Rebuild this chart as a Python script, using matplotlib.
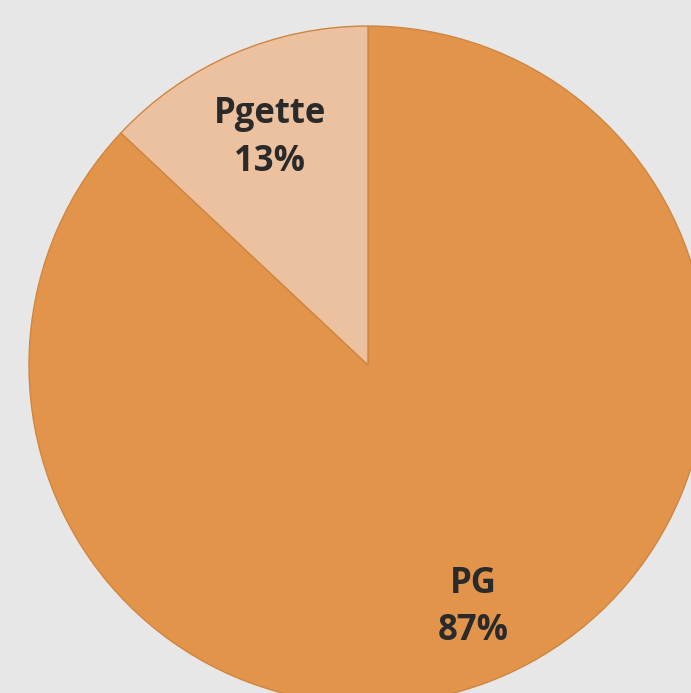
import numpy as np
import matplotlib
matplotlib.use("Agg")
import matplotlib.pyplot as plt

categories = ["PG", "Pgette"]
values = [87, 13]
colors = ["#E2944A", "#EBC1A0"]
label_dist = [0.78, 0.73]

W, H = 691, 693
fig = plt.figure(figsize=(W / 100, H / 100), dpi=100, facecolor="#E7E7E7")
ax = fig.add_axes([0, 0, 1, 1])
ax.set_facecolor("#E7E7E7")

cx, cy, R = 368, H - 365, 339
wedges, _ = ax.pie(values, colors=colors, startangle=90, counterclock=False,
                   center=(cx, cy), radius=R,
                   wedgeprops=dict(edgecolor="#D08640", linewidth=1.0))

total = sum(values)
for w, cat, v, d in zip(wedges, categories, values, label_dist):
    ang = np.deg2rad((w.theta1 + w.theta2) / 2)
    x = cx + d * R * np.cos(ang)
    y = cy + d * R * np.sin(ang)
    ax.text(x, y, f"{cat}\n{round(100 * v / total)}%", ha="center", va="center",
            fontsize=25, fontweight="bold", family=["Open Sans", "DejaVu Sans"],
            color="#2A2A2A", linespacing=1.42)

ax.set_xlim(0, W)
ax.set_ylim(0, H)
ax.set_aspect("auto")
ax.axis("off")
fig.savefig("out.png", dpi=100, facecolor="#E7E7E7")
